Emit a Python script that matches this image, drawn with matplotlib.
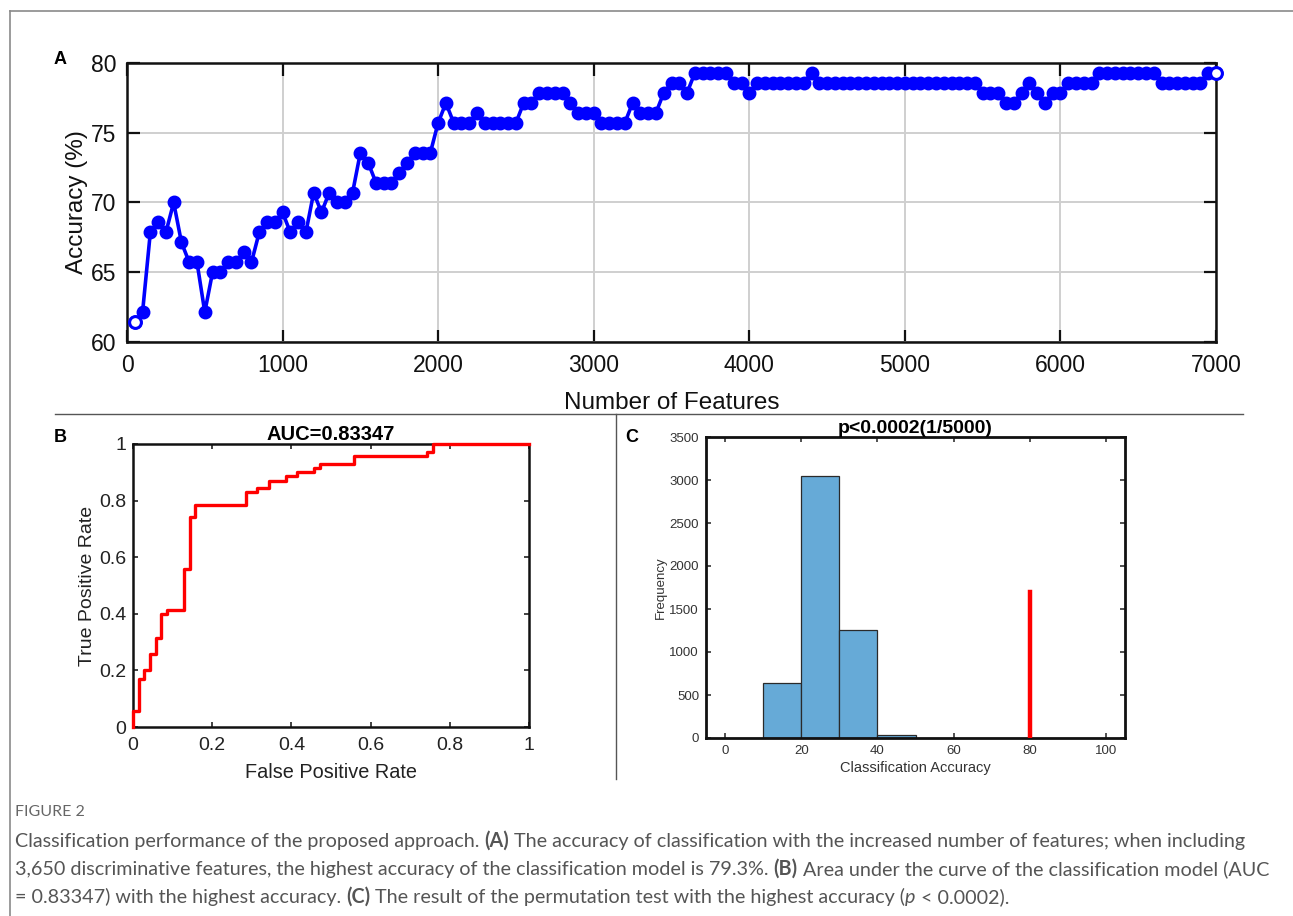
import numpy as np
import matplotlib
matplotlib.use("Agg")
import matplotlib.pyplot as plt
from matplotlib.lines import Line2D

# ---------------- data ----------------
n_features = np.arange(50, 7001, 50)
accuracy = [
    61.43, 62.14, 67.86, 68.57, 67.86, 70.00, 67.14, 65.71, 65.71, 62.14,
    65.00, 65.00, 65.71, 65.71, 66.43, 65.71, 67.86, 68.57, 68.57, 69.29,
    67.86, 68.57, 67.86, 70.71, 69.29, 70.71, 70.00, 70.00, 70.71, 73.57,
    72.86, 71.43, 71.43, 71.43, 72.14, 72.86, 73.57, 73.57, 73.57, 75.71,
    77.14, 75.71, 75.71, 75.71, 76.43, 75.71, 75.71, 75.71, 75.71, 75.71,
    77.14, 77.14, 77.86, 77.86, 77.86, 77.86, 77.14, 76.43, 76.43, 76.43,
    75.71, 75.71, 75.71, 75.71, 77.14, 76.43, 76.43, 76.43, 77.86, 78.57,
    78.57, 77.86, 79.29, 79.29, 79.29, 79.29, 79.29, 78.57, 78.57, 77.86,
    78.57, 78.57, 78.57, 78.57, 78.57, 78.57, 78.57, 79.29, 78.57, 78.57,
    78.57, 78.57, 78.57, 78.57, 78.57, 78.57, 78.57, 78.57, 78.57, 78.57,
    78.57, 78.57, 78.57, 78.57, 78.57, 78.57, 78.57, 78.57, 78.57, 77.86,
    77.86, 77.86, 77.14, 77.14, 77.86, 78.57, 77.86, 77.14, 77.86, 77.86,
    78.57, 78.57, 78.57, 78.57, 79.29, 79.29, 79.29, 79.29, 79.29, 79.29,
    79.29, 79.29, 78.57, 78.57, 78.57, 78.57, 78.57, 78.57, 79.29, 79.29,
]
a_xticks = [0, 1000, 2000, 3000, 4000, 5000, 6000, 7000]
a_yticks = [60, 65, 70, 75, 80]

roc_fpr = [0, 0, 0.014, 0.029, 0.043, 0.057, 0.071, 0.086, 0.129, 0.143, 0.157,
           0.286, 0.314, 0.343, 0.386, 0.414, 0.457, 0.471, 0.557, 0.743, 0.757, 1.0]
roc_tpr = [0, 0.057, 0.171, 0.2, 0.257, 0.314, 0.4, 0.414, 0.557, 0.743, 0.786,
           0.829, 0.843, 0.871, 0.886, 0.9, 0.914, 0.929, 0.957, 0.971, 1.0, 1.0]
b_ticks = [0, 0.2, 0.4, 0.6, 0.8, 1]
b_ticklabels = ["0", "0.2", "0.4", "0.6", "0.8", "1"]

hist_left_edges = [10, 20, 30, 40]
hist_counts = [645, 3050, 1260, 35]
hist_bin_width = 10
observed_acc = 80
observed_bar_height = 1700
c_xticks = [0, 20, 40, 60, 80, 100]
c_yticks = [0, 500, 1000, 1500, 2000, 2500, 3000, 3500]

caption_title = "FIGURE 2"
caption_lines = [
    [("Classification performance of the proposed approach. ", "normal", "normal"),
     ("(A)", "bold", "normal"),
     (" The accuracy of classification with the increased number of features; when including", "normal", "normal")],
    [("3,650 discriminative features, the highest accuracy of the classification model is 79.3%. ", "normal", "normal"),
     ("(B)", "bold", "normal"),
     (" Area under the curve of the classification model (AUC", "normal", "normal")],
    [("= 0.83347) with the highest accuracy. ", "normal", "normal"),
     ("(C)", "bold", "normal"),
     (" The result of the permutation test with the highest accuracy (", "normal", "normal"),
     ("p", "normal", "italic"),
     (" < 0.0002).", "normal", "normal")],
]

# ---------------- figure ----------------
W, H = 1293, 916
plt.rcParams["font.family"] = ["Liberation Sans", "DejaVu Sans"]
fig = plt.figure(figsize=(W / 100, H / 100), dpi=100)
fig.patch.set_facecolor("white")


def rect(l, t, r, b):
    return [l / W, 1 - b / H, (r - l) / W, (b - t) / H]


def px(x, y):
    return x / W, 1 - y / H


# frame lines
fig.add_artist(Line2D([9.5 / W, 9.5 / W], [1 - 10.5 / H, 0], color="#8a8a8a", lw=1.2))
fig.add_artist(Line2D([9.5 / W, 1], [1 - 10.5 / H, 1 - 10.5 / H], color="#8a8a8a", lw=1.2))
fig.add_artist(Line2D([55 / W, 1243 / W], [1 - 414.3 / H, 1 - 414.3 / H], color="#555555", lw=1.0))
fig.add_artist(Line2D([615.7 / W, 615.7 / W], [1 - 414.3 / H, 1 - 779 / H], color="#555555", lw=1.0))

# ---------------- panel A ----------------
axA = fig.add_axes(rect(127, 63, 1216, 342))
axA.plot(n_features, accuracy, "-o", color="#0000ff", lw=2.6, ms=8.5,
         mfc="#0000ff", mec="#0000ff", mew=1.5, clip_on=False, zorder=3)
# end points appear as open circles in the original
axA.plot([n_features[0], n_features[-1]], [accuracy[0], accuracy[-1]], "o", ms=8.5,
         mfc="white", mec="#0000ff", mew=2.2, clip_on=False, zorder=4)
axA.set_xlim(0, 7000)
axA.set_ylim(60, 80)
axA.set_xticks(a_xticks)
axA.set_yticks(a_yticks)
axA.grid(True, color="#cfcfcf", lw=1.4)
axA.set_axisbelow(True)
axA.tick_params(direction="in", length=9, width=1.6, top=True, right=True,
                labelsize=16.5, colors="#111111", pad=7.5)
axA.tick_params(axis="x", pad=8.5)
for s in axA.spines.values():
    s.set_linewidth(1.8)
    s.set_color("#111111")
axA.set_xlabel("Number of Features", fontsize=17.5, color="#111111", labelpad=11)
axA.set_ylabel("Accuracy (%)", fontsize=17.5, color="#111111", labelpad=2)
fig.text(*px(60, 60), "A", fontsize=13, fontweight="bold", ha="center", va="center")

# ---------------- panel B ----------------
axB = fig.add_axes(rect(133, 444, 529, 727))
axB.plot(roc_fpr, roc_tpr, drawstyle="steps-post", color="#ff0000", lw=2.4, clip_on=False, zorder=3)
axB.set_xlim(0, 1)
axB.set_ylim(0, 1)
axB.set_xticks(b_ticks)
axB.set_xticklabels(b_ticklabels)
axB.set_yticks(b_ticks)
axB.set_yticklabels(b_ticklabels)
axB.tick_params(direction="in", length=3.5, width=1.2, top=True, right=True,
                labelsize=14, colors="#222222", pad=5)
axB.tick_params(axis="x", pad=7.5)
for s in axB.spines.values():
    s.set_linewidth(1.8)
    s.set_color("#111111")
axB.set_xlabel("False Positive Rate", fontsize=14.3, color="#222222", labelpad=6)
axB.set_ylabel("True Positive Rate", fontsize=14, color="#222222", labelpad=2)
axB.set_title("AUC=0.83347", fontsize=14.5, fontweight="bold", pad=3)
fig.text(*px(60, 437), "B", fontsize=13, fontweight="bold", ha="center", va="center")

# ---------------- panel C ----------------
axC = fig.add_axes(rect(706, 437, 1125, 738))
axC.bar(hist_left_edges, hist_counts, width=hist_bin_width, align="edge",
        color="#66aad7", edgecolor="#2a2a2a", linewidth=0.9, zorder=2)
axC.plot([observed_acc, observed_acc], [0, observed_bar_height], color="#ff0000", lw=3.2, zorder=3)
axC.set_xlim(-5, 105)
axC.set_ylim(0, 3500)
axC.set_xticks(c_xticks)
axC.set_yticks(c_yticks)
axC.tick_params(direction="in", length=3.5, width=1.2, top=True, right=True,
                labelsize=9.5, colors="#333333", pad=5)
for s in axC.spines.values():
    s.set_linewidth(2.0)
    s.set_color("#111111")
axC.set_xlabel("Classification Accuracy", fontsize=10.5, color="#333333", labelpad=3)
axC.set_ylabel("Frequency", fontsize=9.5, color="#333333", labelpad=2)
axC.set_title("p<0.0002(1/5000)", fontsize=14, fontweight="bold", pad=3)
fig.text(*px(632, 437), "C", fontsize=13, fontweight="bold", ha="center", va="center")

# ---------------- caption ----------------
cap_font = ["Lato", "DejaVu Sans"]
fig.text(*px(15, 812), caption_title, fontsize=11.5, color="#666666", family=cap_font,
         ha="left", va="center")
fig.canvas.draw()
renderer = fig.canvas.get_renderer()
line_y = [841, 869, 897]
for segs, yy in zip(caption_lines, line_y):
    x = 15.0
    for txt, wt, st in segs:
        t = fig.text(*px(x, yy), txt, fontsize=14.2, color="#555555", family=cap_font,
                     fontweight=wt, fontstyle=st, ha="left", va="center")
        bb = t.get_window_extent(renderer=renderer)
        x += bb.width

fig.savefig("out.png", dpi=100, facecolor="white")
